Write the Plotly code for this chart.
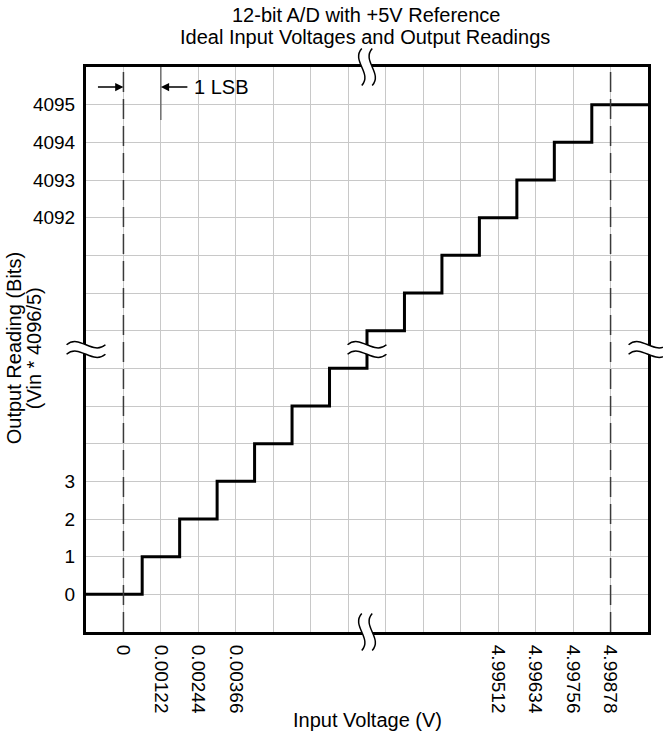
import plotly.graph_objects as go

# ---------------- data ----------------
LSB = 5.0 / 4096                      # volts per code (≈0.00122 V)
x_tick_volts = [0, 0.00122, 0.00244, 0.00366, 4.99512, 4.99634, 4.99756, 4.99878]
x_tick_labels = ["0", "0.00122", "0.00244", "0.00366", "4.99512", "4.99634", "4.99756", "4.99878"]
y_tick_codes = [0, 1, 2, 3, 4092, 4093, 4094, 4095]
y_tick_labels = ["0", "1", "2", "3", "4092", "4093", "4094", "4095"]
# output codes shown on the staircase (low end and high end of the broken scale)
output_codes = [0, 1, 2, 3, 4, 5, 6, 4089, 4090, 4091, 4092, 4093, 4094, 4095]
v_start = -0.00122   # left edge of the chart (volts)
v_end = 5.0          # right edge of the chart (volts)

BREAK_CODE = 2048
SHIFT = 4082  # codes hidden by the axis break


def disp(code):
    """broken-axis scale: code units -> display slot"""
    return code if code < BREAK_CODE else code - SHIFT


def vdisp(v):
    return disp(v / LSB)


# staircase: code k holds from (k-0.5) LSB to (k+0.5) LSB
step_x = [vdisp(v_start)] + [vdisp((c - 0.5) * LSB) for c in output_codes[1:]] + [vdisp(v_end)]
step_y = [disp(c) for c in output_codes] + [disp(output_codes[-1])]

x_tickvals = [round(vdisp(v), 3) for v in x_tick_volts]
y_tickvals = [disp(c) for c in y_tick_codes]

# ---------------- layout geometry ----------------
W, H = 663, 734
L, R, T, B = 86, 13, 67, 102
PW, PH = W - L - R, H - T - B
FONT = "Liberation Sans, Arial, Helvetica, sans-serif"
FS = 20
xr = [vdisp(v_start), vdisp(v_end)]
yr = [-1, 14]


def fx(i):
    return (i - xr[0]) / (xr[1] - xr[0])


def fy(j):
    return (j - yr[0]) / (yr[1] - yr[0])


def px2paper_x(px):
    return (px - L) / PW


def px2paper_y(py):
    return (H - B - py) / PH


fig = go.Figure()
fig.add_trace(go.Scatter(
    x=step_x, y=step_y, mode="lines", line=dict(color="black", width=3, shape="hv"),
    hoverinfo="skip", showlegend=False))

shapes = []
# dashed reference lines at 0 V and full scale
for xv in (x_tickvals[0], x_tickvals[-1]):
    shapes.append(dict(type="line", xref="x", yref="y domain", x0=xv, x1=xv, y0=0, y1=1,
                       line=dict(color="white", width=2), layer="below"))
    shapes.append(dict(type="line", xref="x", yref="y domain", x0=xv, x1=xv, y0=0, y1=1,
                       line=dict(color="#3a3a3a", width=1.5, dash="20px,7px"), layer="above"))

# 1 LSB marker line
shapes.append(dict(type="line", xref="x", yref="y domain", x0=x_tickvals[1], x1=x_tickvals[1],
                   y0=px2paper_y(120), y1=1, line=dict(color="#555555", width=1.2), layer="above"))


def hbreak(cx, cy):
    hw = 19.5 / PW
    g = 4.75 / PH
    h = 11 / PH
    yu, yl = cy + g, cy - g
    fill = (f"M {cx-hw},{yu} C {cx-hw/3},{yu+h} {cx+hw/3},{yu-h} {cx+hw},{yu} "
            f"L {cx+hw},{yl} C {cx+hw/3},{yl-h} {cx-hw/3},{yl+h} {cx-hw},{yl} Z")
    out = [dict(type="path", xref="x domain", yref="y domain", path=fill,
                fillcolor="white", line=dict(width=0), layer="above")]
    for y0 in (yu, yl):
        p = f"M {cx-hw},{y0} C {cx-hw/3},{y0+h} {cx+hw/3},{y0-h} {cx+hw},{y0}"
        out.append(dict(type="path", xref="x domain", yref="y domain", path=p,
                        line=dict(color="black", width=1.5), layer="above"))
    return out


def vbreak(cx, cy):
    hh = 18.5 / PH
    g = 5.25 / PW
    h = 11 / PW
    xl, xrr = cx - g, cx + g
    fill = (f"M {xl},{cy-hh} C {xl+h},{cy-hh/3} {xl-h},{cy+hh/3} {xl},{cy+hh} "
            f"L {xrr},{cy+hh} C {xrr-h},{cy+hh/3} {xrr+h},{cy-hh/3} {xrr},{cy-hh} Z")
    out = [dict(type="path", xref="x domain", yref="y domain", path=fill,
                fillcolor="white", line=dict(width=0), layer="above")]
    for x0 in (xl, xrr):
        p = f"M {x0},{cy-hh} C {x0+h},{cy-hh/3} {x0-h},{cy+hh/3} {x0},{cy+hh}"
        out.append(dict(type="path", xref="x domain", yref="y domain", path=p,
                        line=dict(color="black", width=1.5), layer="above"))
    return out


mid = (disp(6) + disp(4089)) / 2
bx = fx(mid)
by = fy(mid)
shapes += hbreak(0, by)
shapes += hbreak(1, by)
shapes += hbreak(bx, by)
shapes += vbreak(bx, 1)
shapes += vbreak(bx, 0)


def txt(text, px, py, size=FS, angle=0, anchor="center"):
    return dict(text=text, xref="paper", yref="paper", x=px2paper_x(px), y=px2paper_y(py),
                xanchor=anchor, yanchor="middle", showarrow=False, textangle=angle,
                font=dict(family=FONT, size=size, color="black"))


annotations = [
    txt("12-bit A/D with +5V Reference", 367, 15),
    txt("Ideal Input Voltages and Output Readings", 366, 37),
    txt("Output Reading (Bits)", 14, 348, angle=-90),
    txt("(Vin * 4096/5)", 34, 348, angle=-90),
    txt("Input Voltage (V)", 368, 720),
    txt("1 LSB", 192, 87, anchor="left"),
    dict(text="", xref="x", yref="paper", x=x_tickvals[0], y=px2paper_y(87),
         ax=-27, ay=0, axref="pixel", ayref="pixel", showarrow=True,
         arrowhead=2, arrowsize=1.1, arrowwidth=1.5, arrowcolor="black"),
    dict(text="", xref="x", yref="paper", x=x_tickvals[1], y=px2paper_y(87),
         ax=28, ay=0, axref="pixel", ayref="pixel", showarrow=True,
         arrowhead=2, arrowsize=1.1, arrowwidth=1.5, arrowcolor="black"),
]

axis_common = dict(showline=True, mirror=True, linecolor="black", linewidth=3,
                   showgrid=False, zeroline=False, ticks="",
                   tickfont=dict(family=FONT, size=FS - 1, color="black"),
                   minor=dict(dtick=1, tick0=0, showgrid=True, gridcolor="#c8c8c8",
                              gridwidth=1, ticks=""))

fig.update_layout(
    width=W, height=H, margin=dict(l=L, r=R, t=T, b=B),
    paper_bgcolor="white", plot_bgcolor="white",
    xaxis=dict(range=xr, tickmode="array", tickvals=x_tickvals, ticktext=x_tick_labels,
               tickangle=90, ticklabelstandoff=6, **axis_common),
    yaxis=dict(range=yr, tickmode="array", tickvals=y_tickvals, ticktext=y_tick_labels,
               ticklabelstandoff=4, **axis_common),
    shapes=shapes, annotations=annotations, showlegend=False,
)

fig.write_html("out.html", config={"displayModeBar": False},
               post_script="document.body.style.margin='0';document.body.style.overflow='hidden';")
